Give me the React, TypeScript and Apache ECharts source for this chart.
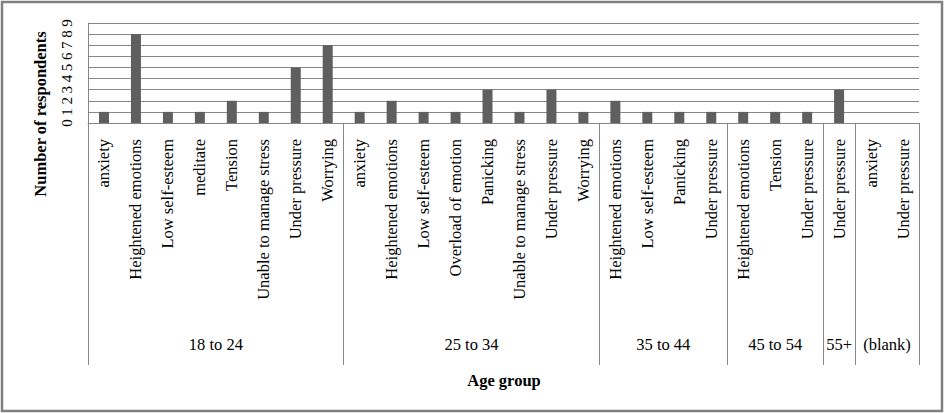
import React, { useEffect, useRef } from "react";
import * as echarts from "echarts";

const categories = [
  "anxiety", "Heightened emotions", "Low self-esteem", "meditate", "Tension", "Unable to manage stress", "Under pressure", "Worrying",
  "anxiety", "Heightened emotions", "Low self-esteem", "Overload of emotion", "Panicking", "Unable to manage stress", "Under pressure", "Worrying",
  "Heightened emotions", "Low self-esteem", "Panicking", "Under pressure",
  "Heightened emotions", "Tension", "Under pressure",
  "Under pressure",
  "anxiety", "Under pressure",
];
const values: (number | null)[] = [
  1, 8, 1, 1, 2, 1, 5, 7,
  1, 2, 1, 1, 3, 1, 3, 1,
  2, 1, 1, 1,
  1, 1, 1,
  3,
  null, null,
];
const groupNames = ["18 to 24", "25 to 34", "35 to 44", "45 to 54", "55+", "(blank)"];
const groupSizes = [8, 8, 4, 3, 1, 2];
const yTicks = [0, 1, 2, 3, 4, 5, 6, 7, 8, 9];

const FONT = "'Liberation Serif', 'Times New Roman', serif";

export default function App() {
  const ref = useRef<HTMLDivElement>(null);
  useEffect(() => {
    if (!ref.current) return;
    const chart = echarts.init(ref.current, null, { renderer: "svg" });
    const bounds: number[] = [0];
    const centers: number[] = [];
    let acc = 0;
    groupSizes.forEach((s) => {
      centers.push(acc + s / 2);
      acc += s;
      bounds.push(acc);
    });
    const total = acc;
    chart.setOption({
      animation: false,
      backgroundColor: "#ffffff",
      grid: { left: 88, right: 25, top: 23, bottom: 290, containLabel: false },
      xAxis: [
        {
          type: "category",
          data: categories,
          position: "bottom",
          axisLine: { show: true, lineStyle: { color: "#868686", width: 1 } },
          axisTick: { show: false },
          axisLabel: {
            interval: 0,
            rotate: 90,
            margin: 16,
            color: "#000",
            fontFamily: FONT,
            fontSize: 16.5,
          },
        },
        {
          type: "value",
          min: 0,
          max: total,
          position: "bottom",
          axisLine: { show: false },
          splitLine: { show: false },
          axisTick: {
            show: true,
            customValues: bounds,
            length: 242,
            lineStyle: { color: "#868686", width: 1 },
          },
          axisLabel: {
            show: true,
            customValues: centers,
            margin: 213,
            color: "#000",
            fontFamily: FONT,
            fontSize: 16.5,
            formatter: (v: number) => {
              const i = centers.findIndex((c) => Math.abs(c - v) < 1e-6);
              return i >= 0 ? groupNames[i] : "";
            },
          },
        },
      ],
      yAxis: {
        type: "value",
        min: yTicks[0],
        max: yTicks[yTicks.length - 1],
        interval: 1,
        axisLine: { show: true, lineStyle: { color: "#868686", width: 1 } },
        axisTick: { show: false },
        splitLine: { show: true, lineStyle: { color: "#868686", width: 1 } },
        axisLabel: {
          rotate: 90,
          margin: 14,
          color: "#000",
          fontFamily: FONT,
          fontSize: 15,
        },
      },
      series: [
        {
          type: "bar",
          xAxisIndex: 0,
          data: values,
          barWidth: 10,
          itemStyle: { color: "#5f5f5f" },
        },
      ],
      graphic: [
        {
          type: "rect",
          shape: { x: 2, y: 2, width: 940, height: 409 },
          style: { fill: "none", stroke: "#808080", lineWidth: 2.5 },
          silent: true,
        },
        {
          type: "text",
          x: 40,
          y: 114,
          rotation: Math.PI / 2,
          style: {
            text: "Number of respondents",
            font: `bold 16.5px ${FONT}`,
            fill: "#000",
            textAlign: "center",
            textVerticalAlign: "middle",
          },
        },
        {
          type: "text",
          x: 504,
          y: 380,
          style: {
            text: "Age group",
            font: `bold 16.5px ${FONT}`,
            fill: "#000",
            textAlign: "center",
            textVerticalAlign: "middle",
          },
        },
      ],
    });
    return () => chart.dispose();
  }, []);
  return (
    <div
      ref={ref}
      style={{ position: "fixed", left: 0, top: 0, width: 944, height: 413, background: "#fff" }}
    />
  );
}
